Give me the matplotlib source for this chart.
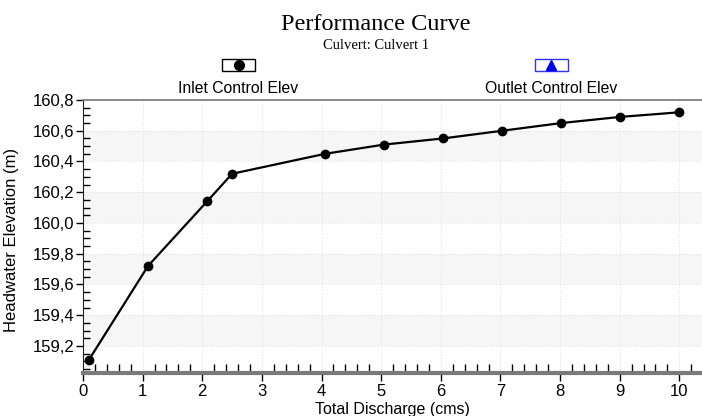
import matplotlib
matplotlib.use('Agg')
import matplotlib.pyplot as plt
from matplotlib.ticker import MultipleLocator, FuncFormatter
from matplotlib.patches import Rectangle
from matplotlib.lines import Line2D

# performance curve values
discharge = [0.10, 1.09, 2.08, 2.50, 4.06, 5.05, 6.04, 7.03, 8.02, 9.01, 10.00]
headwater = [159.11, 159.72, 160.14, 160.32, 160.45, 160.51, 160.55, 160.60, 160.65, 160.69, 160.72]
band_starts = [159.2, 159.6, 160.0, 160.4]
legend_labels = ['Inlet Control Elev', 'Outlet Control Elev']

plt.rcParams['font.family'] = ['Liberation Sans', 'DejaVu Sans']

fig = plt.figure(figsize=(7.02, 4.16), dpi=100)
ax = fig.add_axes([83/702, 43/416, 619/702, 273/416])

for b in band_starts:
    ax.axhspan(b, b + 0.2, color='#f6f6f6', lw=0, zorder=0)

ax.plot(discharge, headwater, c='black', lw=1.6, marker='o', ms=6, zorder=3)

ax.set_xlim(0, 10.38)
ax.set_ylim(159.024, 160.8)
ax.xaxis.set_major_locator(MultipleLocator(1))
ax.xaxis.set_minor_locator(MultipleLocator(0.2))
ax.yaxis.set_major_locator(MultipleLocator(0.2))
ax.yaxis.set_minor_locator(MultipleLocator(0.05))
ax.yaxis.set_major_formatter(FuncFormatter(lambda v, p: ('%.1f' % v).replace('.', ',')))

ax.grid(which='major', ls=':', lw=0.8, c='#e4e4e4', zorder=1)

ax.tick_params(axis='x', which='major', direction='out', length=6, width=1, labelsize=12, pad=2)
ax.tick_params(axis='x', which='minor', direction='in', length=6.5, width=1)
ax.tick_params(axis='y', which='major', direction='out', length=5, width=1, labelsize=12, pad=1)
ax.tick_params(axis='y', which='minor', direction='in', length=5, width=1)

ax.spines['right'].set_visible(False)
ax.spines['top'].set_color('#808080')
ax.spines['top'].set_linewidth(1.3)
ax.spines['bottom'].set_color('#7a7a7a')
ax.spines['bottom'].set_linewidth(3)
ax.spines['left'].set_color('#222222')

ax.set_xlabel('Total Discharge (cms)', fontsize=11.5)
ax.xaxis.set_label_coords(0.5, -0.105)
ax.set_ylabel('Headwater Elevation (m)', fontsize=12)
ax.yaxis.set_label_coords(-0.103, 0.487)

fig.text(376/702, 1 - 30/416, 'Performance Curve', family='Liberation Serif',
         fontsize=17.5, ha='center', va='baseline')
fig.text(376/702, 1 - 49/416, 'Culvert: Culvert 1', family='Liberation Serif',
         fontsize=10.5, ha='center', va='baseline')

# legend: symbol box above each label
centers = [238.5, 551]
edges = ['black', '#3030ff']
marks = ['o', '^']
mcolors = ['black', '#0000ee']
for cx, lab, ec, mk, mc in zip(centers, legend_labels, edges, marks, mcolors):
    fig.patches.append(Rectangle(((cx - 16.5)/702, 1 - 71/416), 33/702, 12/416,
                                 transform=fig.transFigure, fill=False, ec=ec, lw=1))
    fig.lines.append(Line2D([cx/702], [1 - 65/416], transform=fig.transFigure,
                            marker=mk, ms=7, c=mc, ls='none'))
    fig.text(cx/702, 1 - 93/416, lab, fontsize=11.3, ha='center', va='baseline')

fig.savefig('out.png', dpi=100)
